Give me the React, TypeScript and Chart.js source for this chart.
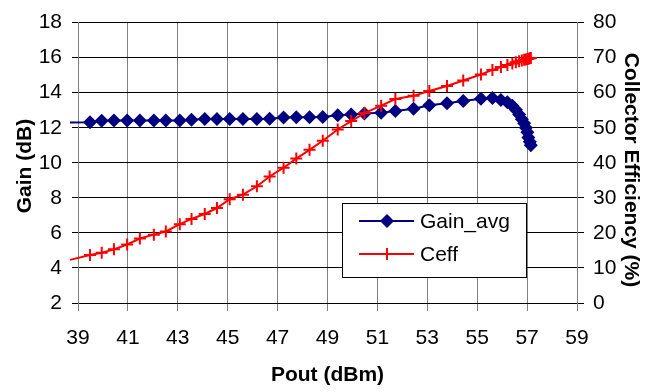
import React, { useEffect, useRef } from "react";
import { Chart, registerables } from "chart.js";

Chart.register(...registerables);

// ---- data ----
const POUT = [
  38.68, 39.48, 39.95, 40.44, 40.97, 41.48, 42.04, 42.52, 43.08, 43.55, 44.08,
  44.57, 45.08, 45.61, 46.17, 46.68, 47.24, 47.75, 48.28, 48.81, 49.41, 49.95,
  50.48, 51.15, 51.72, 52.45, 53.08, 53.79, 54.44, 55.15, 55.61, 55.95, 56.21,
  56.41, 56.55, 56.68, 56.79, 56.88, 56.95, 57.01, 57.05, 57.11, 57.15,
];
const GAIN = [
  12.3, 12.32, 12.4, 12.42, 12.42, 12.42, 12.42, 12.42, 12.42, 12.45, 12.5,
  12.5, 12.5, 12.5, 12.5, 12.52, 12.58, 12.6, 12.6, 12.62, 12.72, 12.75,
  12.82, 12.85, 12.95, 13.08, 13.28, 13.4, 13.52, 13.66, 13.7, 13.58, 13.45,
  13.25, 13.02, 12.76, 12.48, 12.25, 12.0, 11.75, 11.45, 11.2, 11.0,
];
const CEFF = [
  12.3, 13.7, 14.35, 15.3, 16.7, 18.4, 19.5, 20.4, 22.5, 24.0, 25.4,
  27.1, 29.6, 30.9, 33.3, 36.1, 38.6, 41.2, 43.7, 46.3, 49.5, 51.9,
  54.2, 56.3, 58.2, 59.1, 60.5, 61.9, 63.5, 65.2, 66.5, 67.3, 67.9,
  68.3, 68.7, 69.0, 69.2, 69.4, 69.5, 69.6, 69.7, 69.8, 69.9,
];
const X_TICKS = [39, 41, 43, 45, 47, 49, 51, 53, 55, 57, 59];
const GAIN_TICKS = [2, 4, 6, 8, 10, 12, 14, 16, 18];
const EFF_TICKS = [0, 10, 20, 30, 40, 50, 60, 70, 80];
const SERIES = ["Gain_avg", "Ceff"];
const X_TITLE = "Pout (dBm)";
const Y_TITLE = "Gain (dB)";
const Y2_TITLE = "Collector Efficiency (%)";

const FONT = '"Liberation Sans", Arial, sans-serif';
const BLUE = "#000080";
const RED = "#FF0000";

function drawDiamond(ctx: CanvasRenderingContext2D, x: number, y: number, r: number, color: string) {
  ctx.beginPath();
  ctx.moveTo(x, y - r);
  ctx.lineTo(x + r, y);
  ctx.lineTo(x, y + r);
  ctx.lineTo(x - r, y);
  ctx.closePath();
  ctx.fillStyle = color;
  ctx.fill();
}

function drawCross(ctx: CanvasRenderingContext2D, x: number, y: number, r: number, color: string) {
  ctx.beginPath();
  ctx.moveTo(x - r, y);
  ctx.lineTo(x + r, y);
  ctx.moveTo(x, y - r);
  ctx.lineTo(x, y + r);
  ctx.strokeStyle = color;
  ctx.lineWidth = 2;
  ctx.stroke();
}

const decorPlugin = {
  id: "decor",
  afterDraw(chart: any) {
    const ctx: CanvasRenderingContext2D = chart.ctx;
    const area = chart.chartArea;
    ctx.save();
    // axis titles
    ctx.fillStyle = "#000";
    ctx.font = `bold 21px ${FONT}`;
    ctx.textAlign = "center";
    ctx.textBaseline = "middle";
    ctx.fillText(X_TITLE, (area.left + area.right) / 2, 375);
    ctx.save();
    ctx.translate(25, 166);
    ctx.rotate(-Math.PI / 2);
    ctx.fillText(Y_TITLE, 0, 0);
    ctx.restore();
    ctx.save();
    ctx.translate(631, 170);
    ctx.rotate(Math.PI / 2);
    ctx.fillText(Y2_TITLE, 0, 0);
    ctx.restore();

    // legend box
    const x0 = 342, y0 = 203, w = 184, h = 74;
    ctx.fillStyle = "#fff";
    ctx.fillRect(x0, y0, w, h);
    ctx.strokeStyle = "#000";
    ctx.lineWidth = 1;
    ctx.strokeRect(x0 + 0.5, y0 + 0.5, w, h);
    ctx.font = `21px ${FONT}`;
    ctx.textAlign = "left";
    ctx.textBaseline = "middle";
    chart.data.datasets.forEach((ds: any, i: number) => {
      const cy = y0 + 18 + i * 33;
      ctx.beginPath();
      ctx.moveTo(x0 + 17, cy);
      ctx.lineTo(x0 + 72, cy);
      ctx.strokeStyle = ds.borderColor;
      ctx.lineWidth = 2;
      ctx.stroke();
      if (i === 0) drawDiamond(ctx, x0 + 45, cy, 7, ds.borderColor);
      else drawCross(ctx, x0 + 45, cy, 6, ds.borderColor);
      ctx.fillStyle = "#000";
      ctx.fillText(ds.label, x0 + 78, cy + 1);
    });
    ctx.restore();
  },
};

export default function App() {
  const ref = useRef<HTMLCanvasElement | null>(null);

  useEffect(() => {
    if (!ref.current) return;
    const radii = POUT.map((_, i) => (i === 0 ? 0 : 7));
    const crossRadii = POUT.map((_, i) => (i === 0 ? 0 : 6));
    const chart = new Chart(ref.current, {
      type: "line",
      data: {
        datasets: [
          {
            label: SERIES[0],
            data: POUT.map((x, i) => ({ x, y: GAIN[i] })),
            borderColor: BLUE,
            backgroundColor: BLUE,
            borderWidth: 2,
            pointStyle: "rectRot",
            pointRadius: radii,
            pointBorderWidth: 0,
            pointBackgroundColor: BLUE,
            pointBorderColor: BLUE,
            tension: 0,
            yAxisID: "y",
            clip: false as any,
            order: 1,
          },
          {
            label: SERIES[1],
            data: POUT.map((x, i) => ({ x, y: CEFF[i] })),
            borderColor: RED,
            backgroundColor: RED,
            borderWidth: 2,
            pointStyle: "cross",
            pointRadius: crossRadii,
            pointBorderWidth: 2,
            pointBorderColor: RED,
            tension: 0,
            yAxisID: "y1",
            clip: false as any,
            order: 0,
          },
        ],
      },
      options: {
        responsive: false,
        animation: false,
        devicePixelRatio: 1,
        layout: { padding: { top: 17, left: 0, right: 0, bottom: 0 } },
        plugins: { legend: { display: false }, tooltip: { enabled: false } },
        scales: {
          x: {
            type: "linear",
            min: X_TICKS[0],
            max: X_TICKS[X_TICKS.length - 1],
            afterBuildTicks: (s: any) => {
              s.ticks = X_TICKS.map((v) => ({ value: v }));
            },
            afterFit: (s: any) => {
              s.height = 89;
            },
            grid: { color: "#808080", lineWidth: 1, tickLength: 8, tickColor: "#808080" },
            border: { color: "#000", width: 1 },
            ticks: {
              color: "#000",
              font: { family: FONT, size: 21 },
              padding: 15,
              maxRotation: 0,
              autoSkip: false,
            },
          },
          y: {
            type: "linear",
            position: "left",
            min: GAIN_TICKS[0],
            max: GAIN_TICKS[GAIN_TICKS.length - 1],
            afterBuildTicks: (s: any) => {
              s.ticks = GAIN_TICKS.map((v) => ({ value: v }));
            },
            afterFit: (s: any) => {
              s.width = 78;
            },
            grid: { color: "#000", lineWidth: 1, tickLength: 6, tickColor: "#000" },
            border: { color: "#808080", width: 1 },
            ticks: {
              color: "#000",
              font: { family: FONT, size: 21 },
              padding: 10,
              autoSkip: false,
            },
          },
          y1: {
            type: "linear",
            position: "right",
            min: EFF_TICKS[0],
            max: EFF_TICKS[EFF_TICKS.length - 1],
            afterBuildTicks: (s: any) => {
              s.ticks = EFF_TICKS.map((v) => ({ value: v }));
            },
            afterFit: (s: any) => {
              s.width = 84;
            },
            grid: { drawOnChartArea: false, color: "#000", tickLength: 7, tickColor: "#000" },
            border: { color: "#808080", width: 1 },
            ticks: {
              color: "#000",
              font: { family: FONT, size: 21 },
              padding: 9,
              autoSkip: false,
            },
          },
        },
      },
      plugins: [decorPlugin],
    } as any);
    return () => chart.destroy();
  }, []);

  return (
    <div style={{ position: "absolute", left: 0, top: 0, width: 661, height: 392, background: "#fff" }}>
      <canvas ref={ref} width={661} height={392} style={{ display: "block" }} />
    </div>
  );
}
